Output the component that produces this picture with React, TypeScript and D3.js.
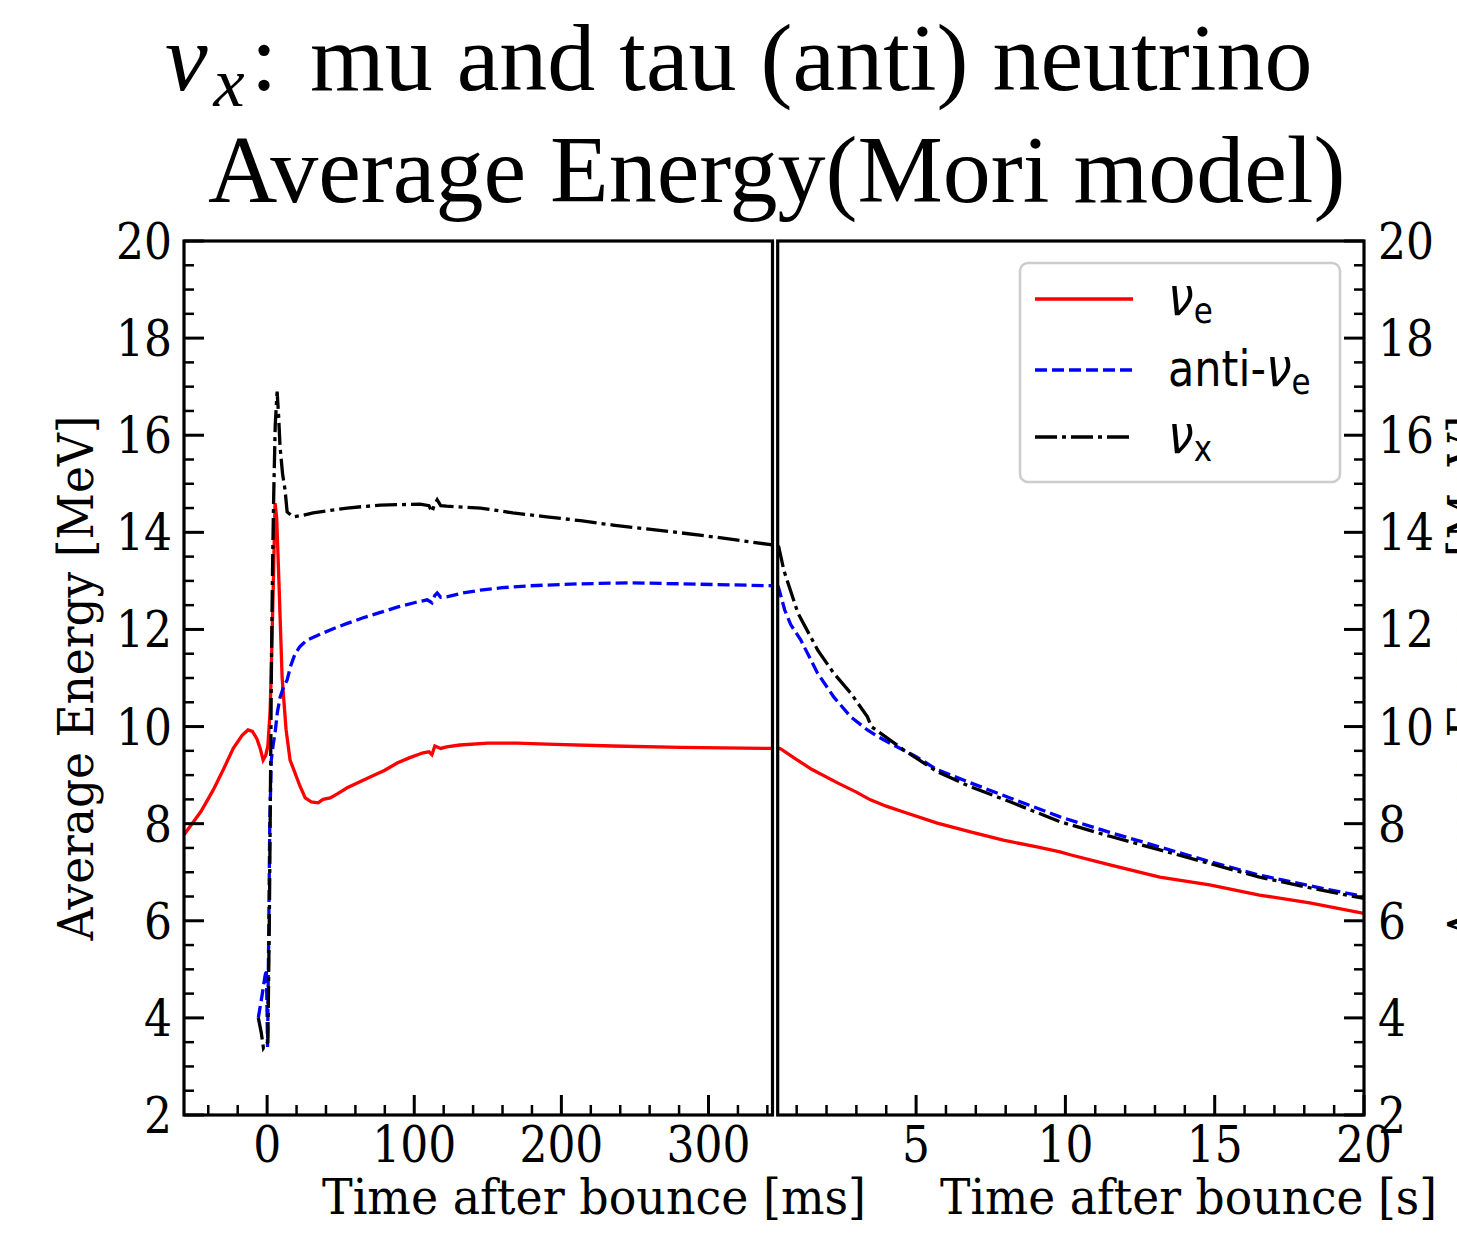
import { line, range, scaleLinear, ScaleLinear } from "d3";

// time after bounce in ms (left panel) and s (right panel), energies in MeV
const nueMsT = [-56.5, -45, -36.7, -30, -23, -17, -13, -10, -7, -4.8, -2.7, -1, 0.5, 2, 2.7, 4.1, 5.4, 6.5, 8, 10.2, 12.9, 15.6, 19, 22, 25.9, 30, 34.7, 38, 42.9, 48, 54.4, 62, 70, 80, 88.4, 97, 106, 110, 112, 114, 115.6, 118, 122, 131, 150, 170, 190, 235, 281, 343.5];
const nueMsE = [7.77, 8.25, 8.69, 9.1, 9.55, 9.82, 9.93, 9.9, 9.75, 9.56, 9.31, 9.4, 9.6, 10.3, 11.0, 12.8, 14.6, 14.3, 13.0, 11.0, 9.93, 9.31, 9.04, 8.8, 8.53, 8.45, 8.43, 8.5, 8.53, 8.62, 8.74, 8.85, 8.96, 9.1, 9.25, 9.36, 9.46, 9.48, 9.42, 9.6, 9.58, 9.55, 9.58, 9.62, 9.66, 9.66, 9.64, 9.6, 9.57, 9.55];

const anueMsT = [-6, -3.5, -1.5, -0.5, 0.3, 1, 1.8, 2.8, 4, 5.5, 7, 8.8, 11, 13.6, 16, 19, 22.4, 27, 33, 42.9, 54, 65.3, 77, 88.4, 100, 108.8, 112, 114, 115.6, 118, 122, 133, 145, 160, 179, 213, 247, 281, 343.5];
const anueMsE = [4.0, 4.45, 4.85, 5.0, 3.4, 5.5, 8.0, 9.3, 9.6, 9.9, 10.3, 10.6, 10.8, 10.96, 11.25, 11.5, 11.65, 11.78, 11.86, 11.99, 12.12, 12.24, 12.35, 12.46, 12.55, 12.61, 12.55, 12.7, 12.75, 12.66, 12.67, 12.75, 12.81, 12.86, 12.9, 12.94, 12.96, 12.94, 12.9];

const nuxMsT = [-6, -4, -2.5, -1, 0.5, 1.5, 2.2, 3, 3.8, 4.5, 5.5, 6.8, 7.8, 8.8, 10.5, 12.2, 13.6, 17.7, 24, 31.3, 42, 54.4, 65, 76.9, 90, 104, 110, 112, 113.5, 115.6, 118, 122, 133, 145, 167, 190, 213, 235, 258, 281, 310, 343.5];
const nuxMsE = [4.0, 3.7, 3.38, 3.45, 3.5, 6.0, 8.5, 11.5, 13.5, 14.8, 16.2, 16.9, 16.4, 15.76, 15.2, 14.87, 14.42, 14.32, 14.35, 14.4, 14.45, 14.5, 14.53, 14.56, 14.57, 14.58, 14.55, 14.42, 14.55, 14.67, 14.55, 14.54, 14.52, 14.5, 14.4, 14.32, 14.24, 14.15, 14.07, 13.99, 13.88, 13.74];

const nueST = [0.365, 0.47, 1, 1.5, 2.37, 3, 3.47, 4, 4.58, 5.71, 6.82, 7.92, 9.05, 9.82, 10.16, 11.49, 13.16, 14.83, 16.5, 18.18, 20];
const nueSE = [9.56, 9.54, 9.32, 9.12, 8.84, 8.65, 8.49, 8.36, 8.24, 8.01, 7.83, 7.66, 7.52, 7.42, 7.36, 7.15, 6.9, 6.74, 6.53, 6.37, 6.15];

const anueST = [0.365, 0.4, 0.6, 0.8, 1.14, 1.7, 2.24, 2.81, 3.37, 3.7, 4.24, 5, 5.71, 6.82, 8.15, 9.82, 11.49, 13.16, 14.83, 16.5, 18.18, 20];
const anueSE = [12.9, 12.85, 12.4, 12.1, 11.78, 11.1, 10.61, 10.2, 9.93, 9.8, 9.62, 9.38, 9.11, 8.84, 8.53, 8.14, 7.82, 7.52, 7.22, 6.94, 6.72, 6.5];

const nuxST = [0.365, 0.4, 0.57, 1.04, 1.7, 2.24, 2.81, 3.37, 3.5, 4.58, 5.71, 6.82, 8.15, 9.82, 11.49, 13.16, 14.83, 16.5, 18.18, 20];
const nuxSE = [13.72, 13.7, 13.22, 12.34, 11.58, 11.1, 10.69, 10.2, 10.0, 9.52, 9.07, 8.76, 8.45, 8.04, 7.74, 7.46, 7.18, 6.9, 6.68, 6.46];

const yTicks = [2, 4, 6, 8, 10, 12, 14, 16, 18, 20];
const msTicks = [0, 100, 200, 300];
const sTicks = [5, 10, 15, 20];

const series = [
    { name: "nue", color: "#ff0000", dash: undefined },
    { name: "anue", color: "#0000ff", dash: "12 5" },
    { name: "nux", color: "#000000", dash: "22 5 4 5" }
];

const SY = 1.14;
const tickFont = "DejaVu Serif";

type Scale = ScaleLinear<number, number, never>;

function Curve({ t, e, x, y, color, dash, clip }: { t: number[]; e: number[]; x: Scale; y: Scale; color: string; dash?: string; clip: string }) {
    const gen = line<number>()
        .x((_, i) => x(t[i]))
        .y((d) => y(d));
    return <path d={gen(e) ?? ""} fill="none" stroke={color} strokeWidth={3.3} strokeDasharray={dash} clipPath={`url(#${clip})`} />;
}

function Label({ x, y, text, anchor, size = 44 }: { x: number; y: number; text: string; anchor: string; size?: number }) {
    return (
        <text transform={`translate(${x},${y}) scale(1,${SY})`} textAnchor={anchor} fontFamily={tickFont} fontSize={size}>
            {text}
        </text>
    );
}

function Panel({ x, y, ticks, minor, side, clip }: { x: Scale; y: Scale; ticks: number[]; minor: number[]; side: "left" | "right"; clip: string }) {
    const [x0, x1] = x.range();
    const [yb, yt] = y.range();
    const ax = side === "left" ? x0 : x1;
    const dir = side === "left" ? 1 : -1;
    const yMinor = range(2, 20.01, 0.5).filter((v) => v % 2 !== 0);
    return (
        <g>
            <defs>
                <clipPath id={clip}>
                    <rect x={x0} y={yt} width={x1 - x0} height={yb - yt} />
                </clipPath>
            </defs>
            {yTicks.map((v) => (
                <line key={`ym${v}`} x1={ax} x2={ax + dir * 20} y1={y(v)} y2={y(v)} stroke="#000" strokeWidth={3} />
            ))}
            {yMinor.map((v) => (
                <line key={`yn${v}`} x1={ax} x2={ax + dir * 10} y1={y(v)} y2={y(v)} stroke="#000" strokeWidth={2.5} />
            ))}
            {ticks.map((v) => (
                <line key={`xm${v}`} x1={x(v)} x2={x(v)} y1={yb} y2={yb - 20} stroke="#000" strokeWidth={3} />
            ))}
            {minor.map((v) => (
                <line key={`xn${v}`} x1={x(v)} x2={x(v)} y1={yb} y2={yb - 10} stroke="#000" strokeWidth={2.5} />
            ))}
            {yTicks.map((v) => (
                <Label
                    key={`yl${v}`}
                    x={side === "left" ? 172 : 1378}
                    y={y(v) + 18}
                    text={String(v)}
                    anchor={side === "left" ? "end" : "start"}
                />
            ))}
            {ticks.map((v) => (
                <Label key={`xl${v}`} x={x(v)} y={yb + 47} text={String(v)} anchor="middle" />
            ))}
            <rect x={x0} y={yt} width={x1 - x0} height={yb - yt} fill="none" stroke="#000" strokeWidth={3.2} />
        </g>
    );
}

function Legend() {
    const entries = [
        { s: series[0], pre: "", sub: "e", y: 299 },
        { s: series[1], pre: "anti-", sub: "e", y: 370 },
        { s: series[2], pre: "", sub: "x", y: 437 }
    ];
    return (
        <g>
            <rect x={1020} y={263} width={320} height={219} rx={8} fill="#fff" stroke="#cccccc" strokeWidth={2.5} />
            {entries.map(({ s, pre, sub, y }) => (
                <g key={s.name}>
                    <line x1={1035} x2={1133} y1={y} y2={y} stroke={s.color} strokeWidth={3.5} strokeDasharray={s.dash} />
                    <text transform={`translate(1168,${y + 16}) scale(1,${SY})`} fontFamily="DejaVu Sans" fontSize={43}>
                        {pre}
                        <tspan fontStyle="italic" fontSize={46}>ν</tspan>
                        <tspan fontSize={31} dy={7}>{sub}</tspan>
                    </text>
                </g>
            ))}
        </g>
    );
}

export default function App() {
    const y = scaleLinear().domain([2, 20]).range([1115, 241]);
    const xL = scaleLinear().domain([-56.5, 343.5]).range([184, 772.5]);
    const xR = scaleLinear().domain([0.365, 20]).range([777.7, 1364]);
    const msMinor = range(-40, 344, 20).filter((v) => v % 100 !== 0);
    const sMinor = range(1, 20, 1).filter((v) => v % 5 !== 0);

    const left = [
        { t: nueMsT, e: nueMsE },
        { t: anueMsT, e: anueMsE },
        { t: nuxMsT, e: nuxMsE }
    ];
    const right = [
        { t: nueST, e: nueSE },
        { t: anueST, e: anueSE },
        { t: nuxST, e: nuxSE }
    ];

    return (
        <svg width={1457} height={1236} style={{ position: "absolute", left: 0, top: 0, background: "#fff" }}>
            <rect width={1457} height={1236} fill="#fff" />
            <text x={165} y={90} fontFamily="Liberation Serif" fontSize={96}>
                <tspan fontStyle="italic">ν</tspan>
                <tspan fontStyle="italic" fontSize={70} dx={6} dy={16}>x</tspan>
                <tspan dx={6} dy={-16}>:</tspan>
                <tspan x={310}>mu and tau (anti) neutrino</tspan>
            </text>
            <text x={208} y={202} fontFamily="Liberation Serif" fontSize={96}>
                Average Energy(Mori model)
            </text>

            {left.map((d, i) => (
                <Curve key={`l${i}`} t={d.t} e={d.e} x={xL} y={y} color={series[i].color} dash={series[i].dash} clip="clipL" />
            ))}
            {right.map((d, i) => (
                <Curve key={`r${i}`} t={d.t} e={d.e} x={xR} y={y} color={series[i].color} dash={series[i].dash} clip="clipR" />
            ))}

            <Panel x={xL} y={y} ticks={msTicks} minor={msMinor} side="left" clip="clipL" />
            <Panel x={xR} y={y} ticks={sTicks} minor={sMinor} side="right" clip="clipR" />

            <text transform={`translate(322,1214) scale(1,${SY})`} fontFamily={tickFont} fontSize={43} textLength={544} lengthAdjust="spacingAndGlyphs">
                Time after bounce [ms]
            </text>
            <text transform={`translate(940,1214) scale(1,${SY})`} fontFamily={tickFont} fontSize={43} textLength={497} lengthAdjust="spacingAndGlyphs">
                Time after bounce [s]
            </text>
            <text transform="translate(93,678) rotate(-90)" textAnchor="middle" fontFamily={tickFont} fontSize={48} textLength={525} lengthAdjust="spacingAndGlyphs">
                Average Energy [MeV]
            </text>
            <text transform="translate(1483,678) rotate(-90)" textAnchor="middle" fontFamily={tickFont} fontSize={48} textLength={525} lengthAdjust="spacingAndGlyphs">
                Average Energy [MeV]
            </text>

            <Legend />
        </svg>
    );
}
